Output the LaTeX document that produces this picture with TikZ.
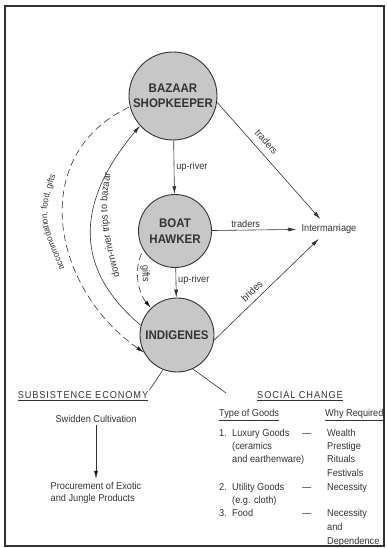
\documentclass[tikz,border=0pt]{standalone}
\usepackage{fontspec}
\setmainfont{Liberation Sans}[FakeStretch=0.92]
\newfontfamily\spacedfont{Liberation Sans}[FakeStretch=0.92,LetterSpace=9]
\usetikzlibrary{arrows.meta,decorations.text}
\definecolor{inkcolor}{gray}{0.2}
\definecolor{discfill}{gray}{0.78}
\def\lblfont{\fontsize{10}{12.5}\selectfont}
\def\smallfont{\fontsize{8.8}{10}\selectfont}
\tikzset{
	actor/.style = {circle, draw=inkcolor, line width=0.9pt, fill=discfill, inner sep=0pt,
		align=center, text=inkcolor, font=\fontsize{12.5}{15.5}\selectfont\bfseries},
	flow/.style = {draw=inkcolor, line width=0.6pt, -{Latex[length=8pt,width=4pt]}},
	backflow/.style = {draw=inkcolor, line width=0.6pt, {Latex[length=8pt,width=4pt]}-,
		dash pattern=on 7pt off 4pt},
	link/.style = {draw=inkcolor, line width=0.6pt},
	lbl/.style = {font=\lblfont, text=inkcolor, inner sep=2pt},
	txt/.style = {font=\lblfont, text=inkcolor, anchor=base west, inner sep=0pt},
	hdr/.style = {font=\fontsize{10}{12}\spacedfont, text=inkcolor, inner sep=1pt},
	along/.style = {postaction={decorate, decoration={text along path, text align=center,
		text color=inkcolor, #1}}}
}

\begin{document}
\begin{tikzpicture}[x=1pt, y=1pt]
	\useasboundingbox (0,0) rectangle (387,-548);
	\draw[inkcolor, line width=1.2pt] (5,-6) rectangle (384,-546);

	\node[actor, minimum size=88pt] (bazaar) at (173,-96) {BAZAAR\\SHOPKEEPER};
	\node[actor, minimum size=73pt] (hawker) at (175,-231) {BOAT\\HAWKER};
	\node[actor, minimum size=74pt] (indigenes) at (177,-335) {INDIGENES};
	\node[lbl, inner sep=5pt] (marriage) at (329,-229) {Intermarriage};

	\draw[flow] (bazaar) -- node[lbl, right] {up-river} (hawker);
	\draw[flow] (hawker) -- node[lbl, right, pos=0.4] {up-river} (indigenes);
	\draw[flow] (hawker) -- node[lbl, above, pos=0.4] {traders} (marriage);
	\draw[flow] (bazaar.-8) -- node[lbl, above=5pt, sloped, pos=0.4] {traders} (marriage);
	\draw[flow] (indigenes.-8) -- node[lbl, above=3pt, sloped, pos=0.42] {brides} (marriage);

	\draw[flow] (indigenes.165) to[out=140, in=230, looseness=1.2] (bazaar.222);
	\path[along={text={|\lblfont|down-river trips to bazaar}}]
		(122,-285) to[out=105, in=255] (113,-165);
	\draw[backflow] (indigenes.208) to[out=145, in=205, looseness=1.18] (bazaar.194);
	\path[along={text={|\smallfont|accommodation, food, gifts}}]
		(66,-272) to[out=112, in=250, looseness=1.3] (57,-172);
	\draw[backflow] (indigenes.134) to[out=130, in=240, looseness=0.9]
		node[lbl, above=0.5pt, sloped, pos=0.6] {gifts} (hawker.211);

	% subsistence economy
	\node[hdr] (subsist) at (83,-396) {\underline{SUBSISTENCE ECONOMY}};
	\draw[link] (indigenes.-112) -- (subsist.north east);
	\node[lbl, anchor=base] (swidden) at (96,-422.5) {Swidden Cultivation};
	\node[lbl, align=left, inner sep=3pt] (procure) at (96,-493) {Procurement of Exotic\\and Jungle Products};
	\draw[flow] (swidden) -- (procure);

	% social change
	\node[hdr] (social) at (300,-396) {\underline{SOCIAL CHANGE}};
	\coordinate (socialtip) at (226,-393);
	\draw[link] (indigenes.-65) -- (socialtip);
	\node[txt] (typehead) at (219,-416.5) {\underline{Type of Goods}};
	\node[txt] (whyhead) at (325,-416.5) {\underline{Why Required}};
	\foreach [count=\i] \y/\n/\t in {436.5/1./Luxury Goods, 490.5/2./Utility Goods, 516.5/3./Food}
	{
		\node[txt] (num\i) at (219,-\y) {\n};
		\node[txt] (good\i) at (232,-\y) {\t};
		\node[txt] (dash\i) at (302,-\y) {---};
	}
	\node[txt] (ceramics) at (232,-449.5) {(ceramics};
	\node[txt] (earthen) at (232,-462.5) {and earthenware)};
	\node[txt] (cloth) at (232,-503.5) {(e.g. cloth)};
	\foreach [count=\i] \y/\t in {436.5/Wealth, 449.5/Prestige, 462.5/Rituals, 476.5/Festivals,
		490.5/Necessity, 516.5/Necessity, 530.5/and, 544.5/Dependence}
		\node[txt] (why\i) at (327,-\y) {\t};
\end{tikzpicture}
\end{document}
